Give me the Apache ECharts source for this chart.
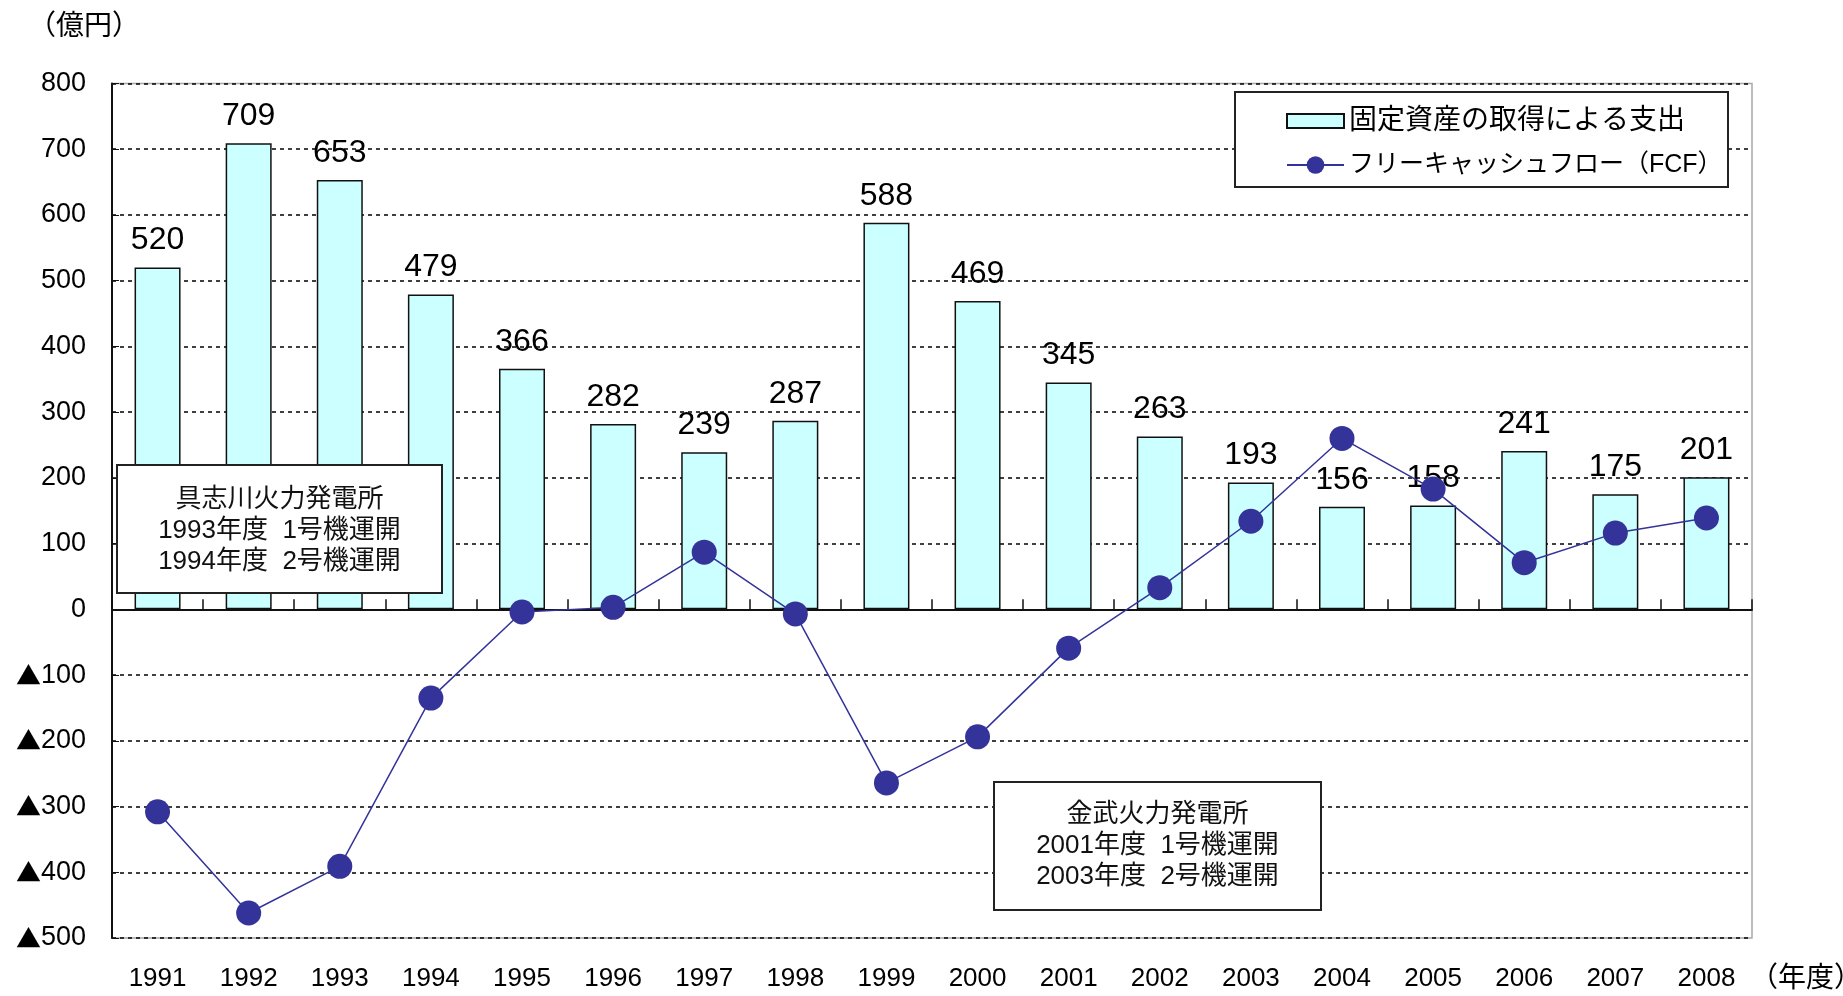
<!DOCTYPE html>
<html>
<head>
<meta charset="utf-8">
<script src="https://cdn.jsdelivr.net/npm/echarts@6/dist/echarts.min.js"></script>
<style>
  html, body { margin: 0; padding: 0; background: #fff; }
  #chart { width: 1843px; height: 996px; }
</style>
</head>
<body>
<div id="chart"></div>
<script>
// Fiscal years (年度)
const years = ['1991','1992','1993','1994','1995','1996','1997','1998','1999','2000',
               '2001','2002','2003','2004','2005','2006','2007','2008'];
// 固定資産の取得による支出 (億円)
const capex = [520, 709, 653, 479, 366, 282, 239, 287, 588, 469,
               345, 263, 193, 156, 158, 241, 175, 201];
// フリーキャッシュフロー (億円)
const fcf = [-308, -462, -391, -135, -4, 3, 87, -7, -264, -194,
             -59, 33, 134, 260, 183, 71, 116, 139];
// Value axis range
const yMin = -500, yMax = 800, yStep = 100;

const barName = '固定資産の取得による支出';
const lineName = 'フリーキャッシュフロー（FCF）';
const FONT = "'Liberation Sans', Arial, 'Noto Sans CJK JP', sans-serif";
const CJK = "'Noto Sans CJK JP', sans-serif";

const chart = echarts.init(document.getElementById('chart'));

// text element helper for the graphic layer
function label(text, x, y, size, extra) {
  return Object.assign({
    type: 'text', x: x, y: y, z: 20,
    style: { text: text, fontSize: size, fontFamily: FONT, fill: '#000' }
  }, extra || {});
}

function noteBox(left, top, w, h, textY, text) {
  return {
    type: 'group', x: left, y: top,
    children: [
      {
        type: 'rect', z: 20, shape: { x: 0, y: 0, width: w, height: h },
        style: { fill: '#fff', stroke: '#222', lineWidth: 2 }
      },
      {
        type: 'text', z: 21, x: w / 2, y: textY,
        style: {
          text: text, fontSize: 26, fontFamily: FONT, fill: '#111', lineHeight: 31,
          align: 'center', verticalAlign: 'middle'
        }
      }
    ]
  };
}

const option = {
  backgroundColor: '#ffffff',
  animation: false,
  textStyle: { fontFamily: FONT, color: '#000' },
  grid: {
    left: 112, right: 91, top: 83.5, bottom: 58,
    show: true, borderColor: '#a8a8a8', borderWidth: 1.5, backgroundColor: 'transparent'
  },
  legend: [
    {
      data: [{ name: barName, icon: 'rect' }], left: 1286, top: 106, padding: 0,
      itemWidth: 57, itemHeight: 14,
      textStyle: { fontSize: 28, lineHeight: 30, color: '#000', fontFamily: FONT }
    },
    {
      data: [lineName], left: 1286, top: 150, padding: 0,
      itemWidth: 57, itemHeight: 22,
      textStyle: { fontSize: 25, lineHeight: 30, color: '#000', fontFamily: FONT }
    }
  ],
  xAxis: [
    {
      // bottom axis carrying the year labels
      type: 'category', data: years, position: 'bottom',
      axisLine: { show: false, onZero: false },
      axisTick: { show: false },
      axisLabel: { fontSize: 26, color: '#000', margin: 28, fontFamily: FONT }
    },
    {
      // axis line drawn at the zero level with inward ticks
      type: 'category', data: years, position: 'bottom',
      axisLine: { show: true, onZero: true, lineStyle: { color: '#111', width: 2 } },
      axisTick: { show: true, inside: true, length: 10, lineStyle: { color: '#111', width: 1.5 } },
      axisLabel: { show: false }
    }
  ],
  yAxis: {
    type: 'value', min: yMin, max: yMax, interval: yStep,
    axisLine: { show: true, lineStyle: { color: '#111', width: 2 } },
    axisTick: { show: true, inside: true, length: 7, lineStyle: { color: '#111' } },
    axisLabel: {
      fontSize: 27, color: '#000', margin: 26, fontFamily: FONT,
      formatter: v => (v < 0 ? '{t|▲}' + (-v) : String(v)),
      rich: { t: { fontFamily: CJK, fontSize: 25, color: '#000' } }
    },
    splitLine: { show: true, lineStyle: { color: '#000', type: [4, 4], width: 1.5 } }
  },
  series: [
    {
      name: barName, type: 'bar', data: capex, xAxisIndex: 0,
      barWidth: 46,
      itemStyle: { color: '#ccffff', borderColor: '#111', borderWidth: 1.5 },
      label: { show: true, position: 'top', distance: 11, fontSize: 32, color: '#000', fontFamily: FONT }
    },
    {
      name: lineName, type: 'line', data: fcf, xAxisIndex: 0,
      symbol: 'circle', symbolSize: 25, z: 3,
      lineStyle: { color: '#333399', width: 1.5 },
      itemStyle: { color: '#333399' }
    }
  ],
  graphic: [
    // legend frame
    {
      type: 'rect', x: 1235, y: 92, z: 3,
      shape: { width: 493, height: 95 },
      style: { fill: '#fff', stroke: '#222', lineWidth: 2 }
    },
    // unit captions
    label('（億円）', 28, 13, 28),
    label('（年度）', 1750, 965, 28),
    // plant notes
    noteBox(117, 465, 325, 128, 66, '具志川火力発電所\n1993年度  1号機運開\n1994年度  2号機運開'),
    noteBox(994, 782, 327, 128, 64, '金武火力発電所\n2001年度  1号機運開\n2003年度  2号機運開')
  ]
};

chart.setOption(option);
</script>
</body>
</html>
